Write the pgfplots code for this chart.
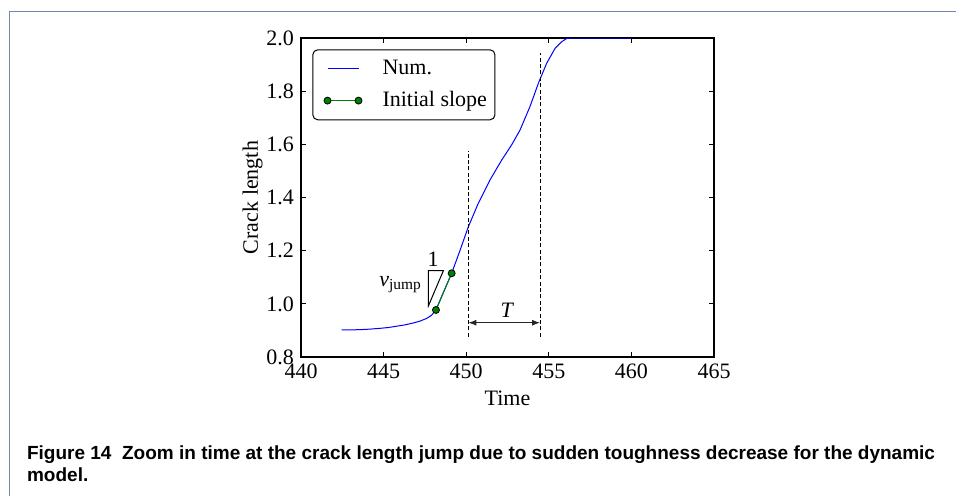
\documentclass[border=0pt]{standalone}
\usepackage{fontspec}
\setmainfont{Liberation Serif}
\newfontfamily\capfont{Liberation Sans}
\usepackage{pgfplots}
\pgfplotsset{compat=1.18}
\usetikzlibrary{arrows.meta}
\definecolor{framec}{HTML}{7088AD}
\definecolor{mplgreen}{HTML}{008000}

\begin{document}
\begin{tikzpicture}
\useasboundingbox (0pt,0pt) rectangle (478pt,247.5pt);
\draw[framec, line width=0.75pt] (4.65pt,-1pt) -- (4.65pt,241.65pt) -- (480pt,241.65pt);
\node[anchor=base west, inner sep=0pt, font=\capfont\bfseries\fontsize{9.5}{11}\selectfont] at (13.35pt,17.85pt) {Figure 14\ \ Zoom in time at the crack length jump due to sudden toughness decrease for the dynamic};
\node[anchor=base west, inner sep=0pt, font=\capfont\bfseries\fontsize{9.5}{11}\selectfont] at (13.35pt,6.65pt) {model.};
\begin{axis}[
  at={(150.5pt,69pt)}, anchor=south west,
  scale only axis, width=206.5pt, height=159.5pt,
  xmin=440, xmax=465, ymin=0.8, ymax=2.0,
  xtick={440,445,450,455,460,465},
  ytick={0.8,1.0,1.2,1.4,1.6,1.8,2.0},
  tick align=inside, major tick length=2.5pt,
  tick style={black, line width=0.5pt},
  axis line style={black, line width=0.6pt},
  /pgf/number format/assume math mode=true,
  every tick label/.append style={font=\fontsize{11}{13}\selectfont},
  yticklabel style={/pgf/number format/.cd, fixed, fixed zerofill, precision=1},
  label style={font=\fontsize{11}{13}\selectfont},
  xlabel={Time}, ylabel={Crack length},
  xlabel style={at={(axis description cs:0.5,-0.1505)}, anchor=base},
  ylabel style={at={(axis description cs:-0.1174,0.5)}, anchor=center},
  legend cell align=left,
  legend image code/.code={\path[draw=none] (-3.35pt,0pt) -- (27.5pt,0pt); \draw[#1] plot coordinates {(0pt,0pt) (15.5pt,0pt)};},
  legend style={at={(axis description cs:0.02736,0.9646)}, anchor=north west, draw=black, line width=0.5pt, rounded corners=2.5pt, inner xsep=4pt, inner ysep=4.35pt, row sep=5.3pt, nodes={inner sep=0pt, text height=8pt, text depth=2.5pt, font=\fontsize{11}{13}\selectfont}},
]
\addplot[blue, line width=0.5pt] coordinates {
(442.46,0.902) (443.0,0.902) (443.6,0.903) (444.2,0.905) (444.8,0.908)
(445.3,0.911) (445.8,0.916) (446.3,0.921) (446.8,0.928) (447.2,0.935)
(447.6,0.945) (447.9,0.957) (448.17,0.977) (448.6,1.04) (449.12,1.115)
(449.62,1.200) (450.13,1.290) (450.73,1.378) (451.44,1.466) (452.15,1.541)
(452.75,1.598) (453.26,1.654) (453.86,1.742) (454.37,1.830) (454.87,1.905)
(455.38,1.961) (455.78,1.986) (456.08,1.998) (456.3,2.0) (460.0,2.0)
};
\addlegendentry{Num.}
\addplot[mplgreen, line width=0.5pt, mark=*, mark size=1.75pt, mark options={fill=mplgreen, draw=black, line width=0.4pt}] coordinates {(448.17,0.977) (449.12,1.115)};
\addlegendentry{Initial slope}
\draw[black, line width=0.4pt, dash pattern=on 2pt off 1.2pt] (axis cs:450.13,0.876) -- (axis cs:450.13,1.575);
\draw[black, line width=0.4pt, dash pattern=on 2pt off 1.2pt] (axis cs:454.47,0.876) -- (axis cs:454.47,1.943);
\draw[{Latex[length=4pt,width=3pt]}-{Latex[length=4pt,width=3pt]}, line width=0.5pt, black!85] (axis cs:450.13,0.929) -- (axis cs:454.47,0.929);
\node[anchor=base, inner sep=0pt, font=\fontsize{11}{13}\selectfont] at (axis cs:452.5,0.950) {\textit{T}};
\draw[black, line width=0.5pt] (axis cs:447.71,1.125) -- (axis cs:448.62,1.125) -- (axis cs:447.71,0.992) -- cycle;
\node[anchor=base, inner sep=0pt, font=\fontsize{11}{13}\selectfont] at (axis cs:448.0,1.14) {1};
\node[anchor=base east, inner sep=0pt, font=\fontsize{11}{13}\selectfont] at (axis cs:447.33,1.065) {\textit{v}\textsubscript{jump}};
\end{axis}
\end{tikzpicture}
\end{document}
